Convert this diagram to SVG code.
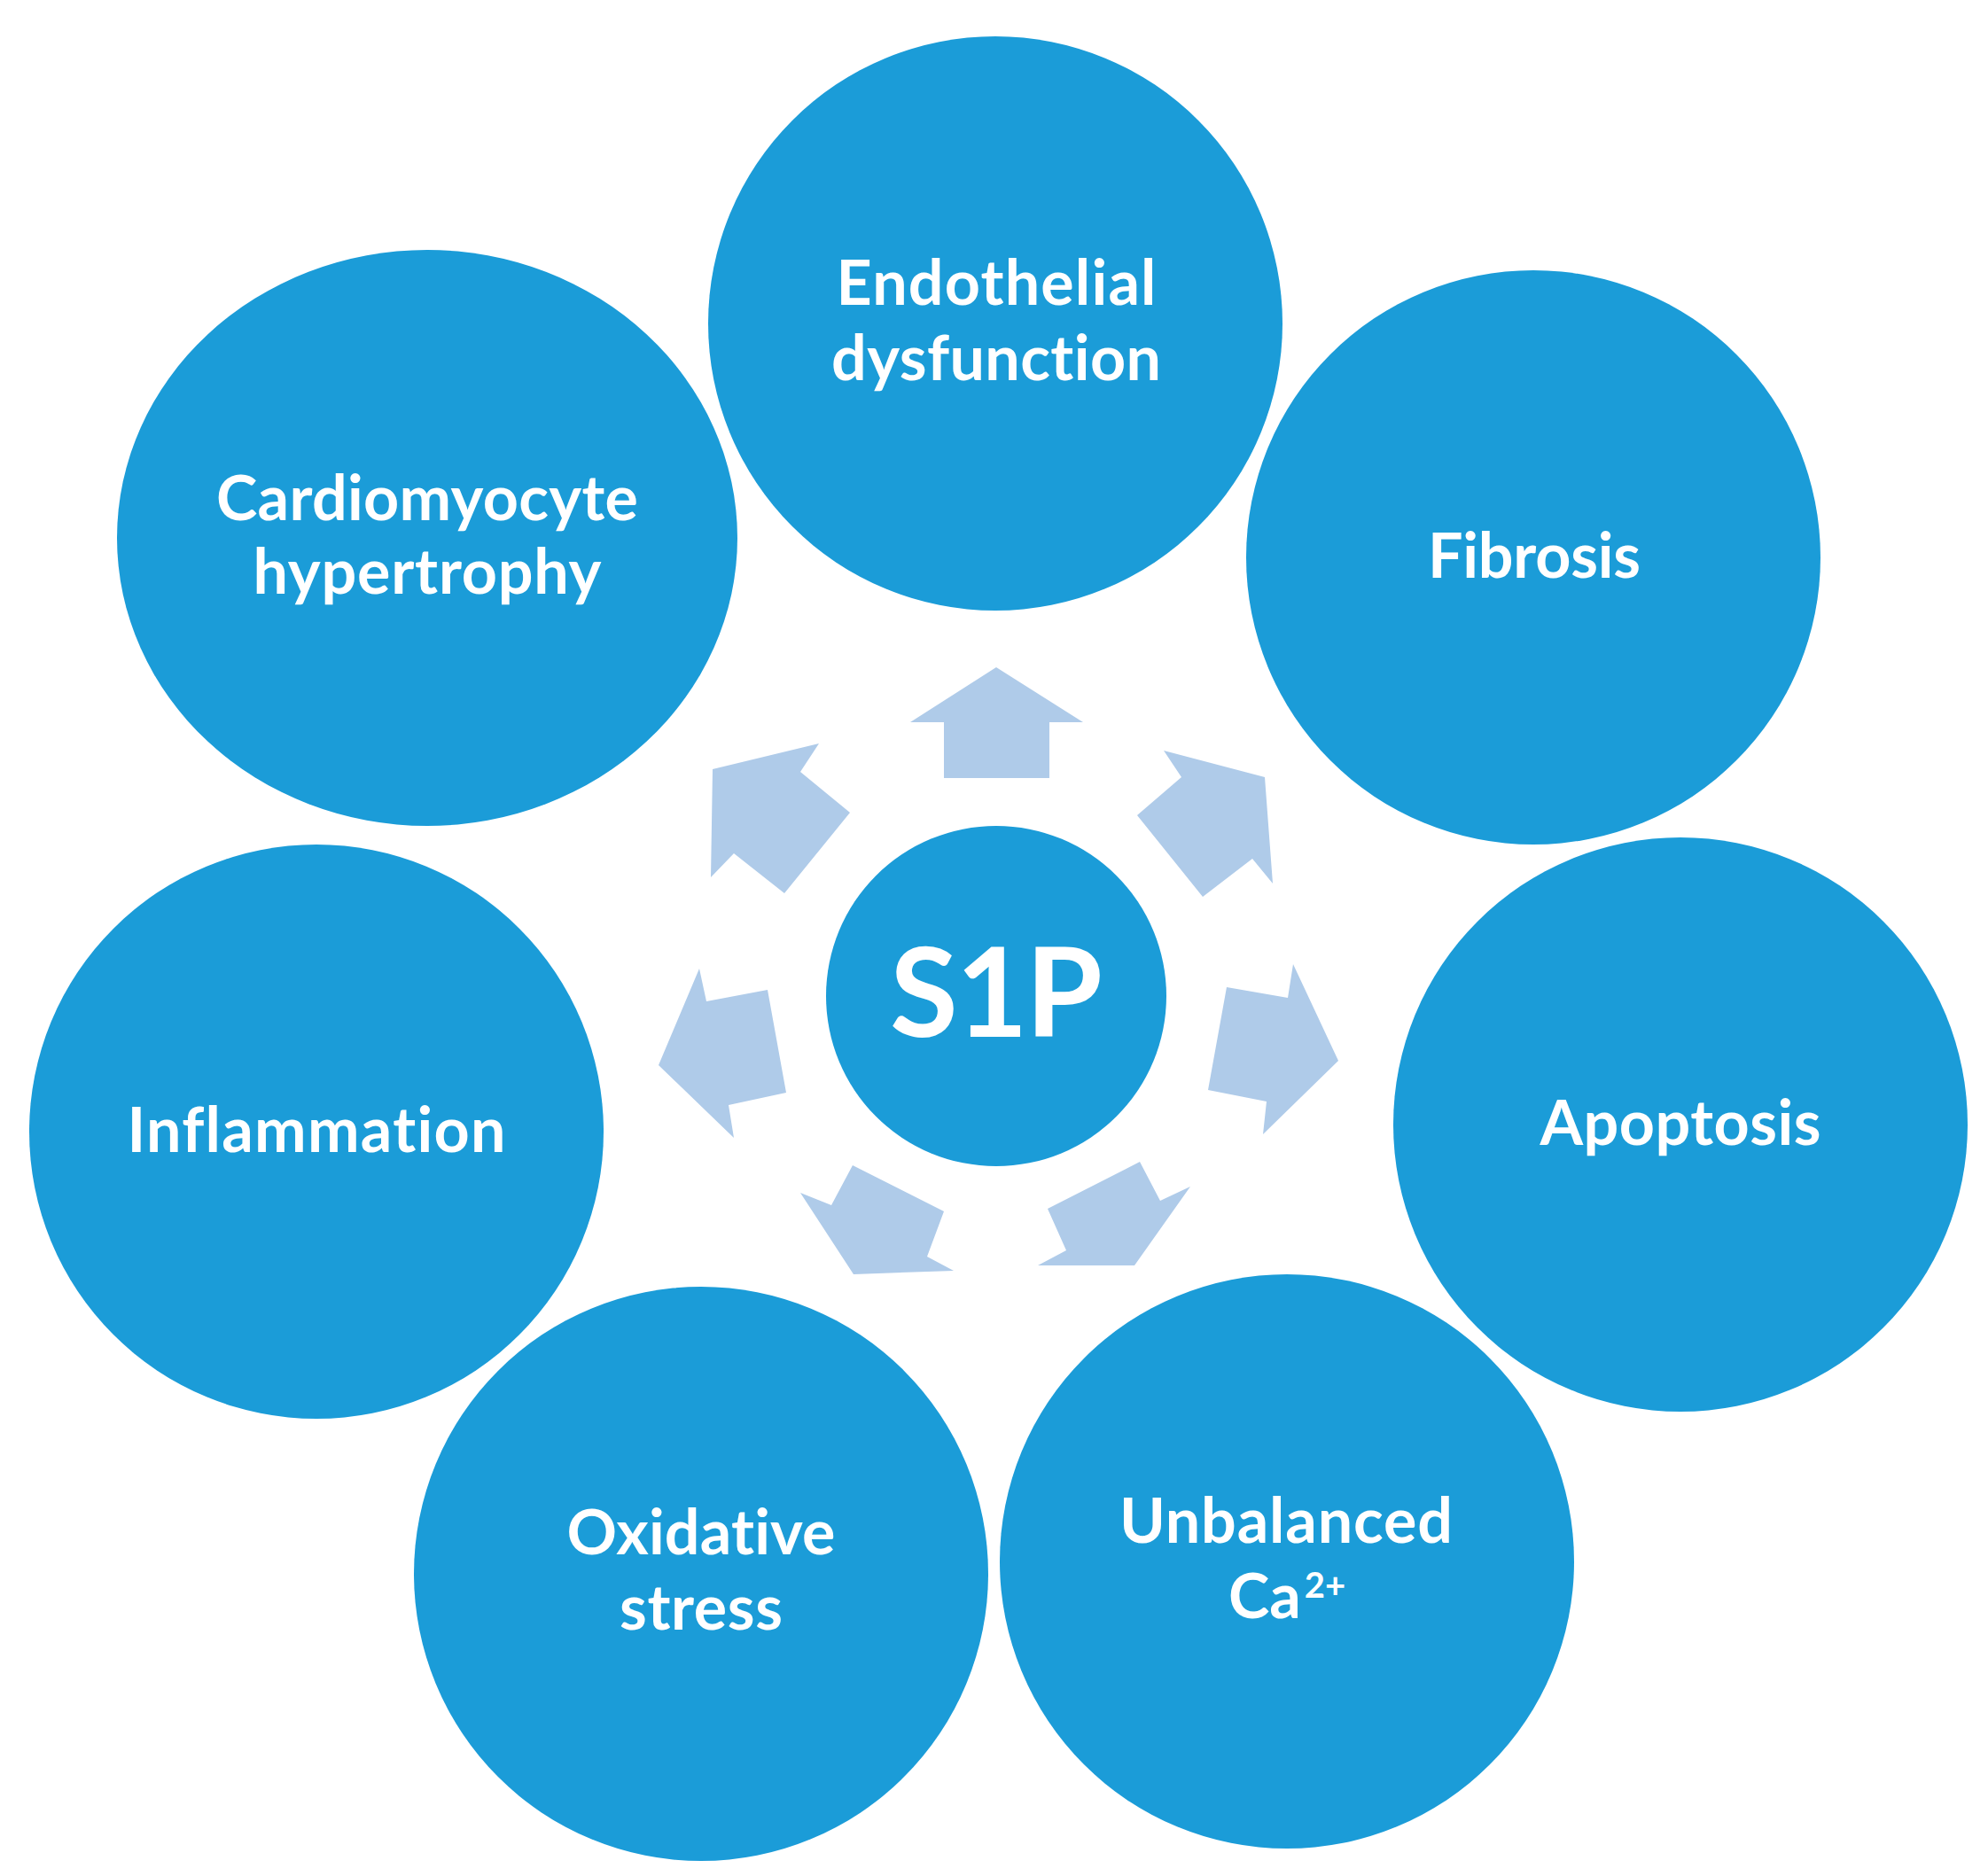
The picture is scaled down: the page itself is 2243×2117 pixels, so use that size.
<svg xmlns="http://www.w3.org/2000/svg" width="2243" height="2117" viewBox="0 0 2243 2117">
<style>
.node{fill:#1b9cd8}
.arrow{fill:#afcbe9}
.lbl{font-family:Lato,"Open Sans","Liberation Sans",sans-serif;font-weight:700;font-size:70px;fill:#ffffff;text-anchor:middle;font-variant-ligatures:none;font-feature-settings:"liga" 0,"clig" 0}
.big{font-size:140px}
</style>
<rect width="2243" height="2117" fill="#ffffff"/>
<g id="connectors">
<polygon class="arrow" points="1124,753 1222,815 1184,815 1184,878 1065,878 1065,815 1027,815"/>
<polygon class="arrow" points="1313,847 1427,877 1436,997 1413,969 1357,1012 1283,920 1333,877"/>
<polygon class="arrow" points="1459,1088 1510,1197 1425,1280 1429,1243 1363,1230 1384,1114 1453,1126"/>
<polygon class="arrow" points="1286,1311 1309,1355 1343,1339 1280,1428 1171,1428 1203,1411 1182,1364"/>
<polygon class="arrow" points="962,1315 1065,1367 1046,1418 1076,1434 963,1438 903,1346 938,1360"/>
<polygon class="arrow" points="789,1093 743,1202 828,1284 822,1247 887,1233 866,1117 797,1130"/>
<polygon class="arrow" points="924,839 804,868 802,990 828,963 885,1008 959,917 903,871"/>
</g>
<g id="node-s1p">
<circle class="node" cx="1124" cy="1124" r="192"/>
<text class="lbl big" x="1124" y="1170" textLength="240">S1P</text>
</g>
<g id="node-endothelial">
<circle class="node" cx="1123" cy="365" r="324"/>
<text class="lbl" x="1124" y="344" textLength="361">Endothelial</text>
<text class="lbl" x="1124" y="429" textLength="372">dysfunction</text>
</g>
<g id="node-fibrosis">
<circle class="node" cx="1730" cy="629" r="324"/>
<text class="lbl" x="1731" y="652" textLength="240">Fibrosis</text>
</g>
<g id="node-apoptosis">
<circle class="node" cx="1896" cy="1269" r="324"/>
<text class="lbl" x="1896" y="1292" textLength="317">Apoptosis</text>
</g>
<g id="node-calcium">
<circle class="node" cx="1452" cy="1762" r="324"/>
<text class="lbl" x="1451" y="1741" textLength="376">Unbalanced</text>
<text class="lbl" x="1452" y="1826">Ca<tspan font-size="40" dx="4" dy="-23">2+</tspan></text>
</g>
<g id="node-oxidative">
<circle class="node" cx="791" cy="1776" r="324"/>
<text class="lbl" x="791" y="1754" textLength="303">Oxidative</text>
<text class="lbl" x="791" y="1839" textLength="184">stress</text>
</g>
<g id="node-inflammation">
<circle class="node" cx="357" cy="1277" r="324"/>
<text class="lbl" x="357" y="1300" textLength="427">Inflammation</text>
</g>
<g id="node-cardiomyocyte">
<ellipse class="node" cx="482" cy="607" rx="350" ry="325"/>
<text class="lbl" x="482" y="587" textLength="476">Cardiomyocyte</text>
<text class="lbl" x="482" y="670" textLength="393">hypertrophy</text>
</g>
</svg>
